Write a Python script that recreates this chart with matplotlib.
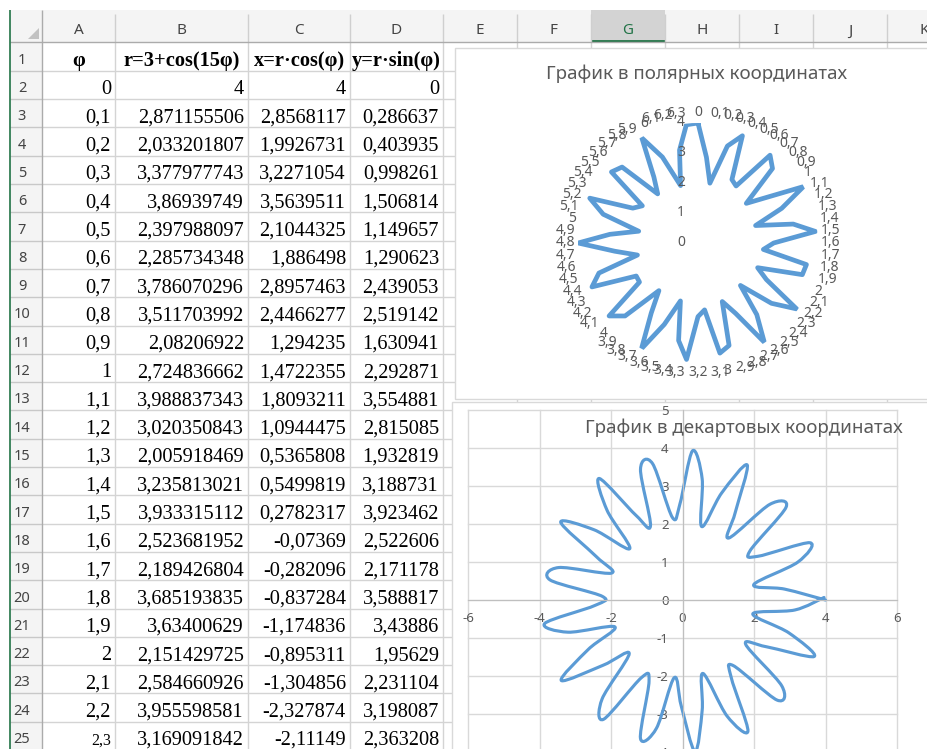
import numpy as np
import matplotlib.pyplot as plt
from matplotlib.path import Path
from matplotlib.patches import PathPatch, Rectangle, Polygon
from matplotlib.projections.polar import PolarAxes
from matplotlib.transforms import offset_copy

plt.rcParams['axes.unicode_minus'] = False

# ---- spreadsheet text, rows 2..25 (as shown in the cells) ----
phi_txt = ['0', '0,1', '0,2', '0,3', '0,4', '0,5', '0,6', '0,7', '0,8', '0,9', '1',
           '1,1', '1,2', '1,3', '1,4', '1,5', '1,6', '1,7', '1,8', '1,9', '2',
           '2,1', '2,2', '2,3']
r_txt = ['4', '2,871155506', '2,033201807', '3,377977743', '3,86939749',
         '2,397988097', '2,285734348', '3,786070296', '3,511703992', '2,08206922',
         '2,724836662', '3,988837343', '3,020350843', '2,005918469', '3,235813021',
         '3,933315112', '2,523681952', '2,189426804', '3,685193835', '3,63400629',
         '2,151429725', '2,584660926', '3,955598581', '3,169091842']
x_txt = ['4', '2,8568117', '1,9926731', '3,2271054', '3,5639511', '2,1044325',
         '1,886498', '2,8957463', '2,4466277', '1,294235', '1,4722355', '1,8093211',
         '1,0944475', '0,5365808', '0,5499819', '0,2782317', '-0,07369', '-0,282096',
         '-0,837284', '-1,174836', '-0,895311', '-1,304856', '-2,327874', '-2,11149']
y_txt = ['0', '0,286637', '0,403935', '0,998261', '1,506814', '1,149657',
         '1,290623', '2,439053', '2,519142', '1,630941', '2,292871', '3,554881',
         '2,815085', '1,932819', '3,188731', '3,923462', '2,522606', '2,171178',
         '3,588817', '3,43886', '1,95629', '2,231104', '3,198087', '2,363208']
head_txt = ['φ', 'r=3+cos(15φ)', 'x=r·cos(φ)', 'y=r·sin(φ)']
col_names = ['A', 'B', 'C', 'D', 'E', 'F', 'G', 'H', 'I', 'J', 'K']

# ---- chart data: column A (phi) and column B (r), all 64 rows ----
phi = [0.0, 0.1, 0.2, 0.3, 0.4, 0.5, 0.6, 0.7, 0.8, 0.9,
       1.0, 1.1, 1.2, 1.3, 1.4, 1.5, 1.6, 1.7, 1.8, 1.9,
       2.0, 2.1, 2.2, 2.3, 2.4, 2.5, 2.6, 2.7, 2.8, 2.9,
       3.0, 3.1, 3.2, 3.3, 3.4, 3.5, 3.6, 3.7, 3.8, 3.9,
       4.0, 4.1, 4.2, 4.3, 4.4, 4.5, 4.6, 4.7, 4.8, 4.9,
       5.0, 5.1, 5.2, 5.3, 5.4, 5.5, 5.6, 5.7, 5.8, 5.9,
       6.0, 6.1, 6.2, 6.3]
r = [4.0, 2.8712, 2.0332, 3.3780, 3.8694, 2.3980, 2.2857, 3.7861, 3.5117, 2.0821,
     2.7248, 3.9888, 3.0204, 2.0059, 3.2358, 3.9333, 2.5237, 2.1894, 3.6852, 3.6340,
     2.1514, 2.5847, 3.9556, 3.1691, 2.0008, 3.0884, 3.9764, 2.6600, 2.1112, 3.5690,
     3.7422, 2.2397, 2.4538, 3.9010, 3.3141, 2.0180, 2.9390, 3.9977, 2.8039, 2.0528,
     3.4401, 3.8337, 2.3450, 2.3351, 3.8263, 3.4510, 2.0572, 2.7909, 3.9967, 2.9522,
     2.0156, 3.3014, 3.9067, 2.4649, 2.2312, 3.7332, 3.5799, 2.1174, 2.6476, 3.9734,
     3.1016, 2.0004, 3.1560, 3.9594]

r_ticks = [0, 1, 2, 3, 4]
x_ticks = [-6, -4, -2, 0, 2, 4, 6]
y_ticks = [-5, -4, -3, -2, -1, 0, 1, 2, 3, 4, 5]
title_polar = 'График в полярных координатах'
title_cart = 'График в декартовых координатах'

W, H = 927, 749
BLUE = '#5B9BD5'
GREY = '#595959'
SANS = ['Noto Sans', 'DejaVu Sans']
SERIF = ['Liberation Serif', 'DejaVu Serif']

fig = plt.figure(figsize=(W / 100, H / 100), dpi=100)
base = fig.add_axes([0, 0, 1, 1])
base.set_xlim(0, W)
base.set_ylim(H, 0)
base.axis('off')

# ---- spreadsheet grid ----
col_x = [42, 115, 248, 350, 443, 517, 591, 665, 739, 813, 887, 961]
row_y = [42.5 + 28.3 * k for k in range(27)]

base.add_patch(Rectangle((10, 10), W, 32, fc='#f4f4f4', ec='none'))
base.add_patch(Rectangle((10, 42), 32, H, fc='#f4f4f4', ec='none'))
base.add_patch(Rectangle((591, 10), 74, 32, fc='#d3d3d3', ec='none'))
base.hlines(41, 591, 665, color='#217346', lw=2)
base.vlines(col_x[1:11], 14, 42, color='#cfcfcf', lw=1)
base.hlines(row_y[1:], 42, W, color='#d4d4d4', lw=1)
base.hlines(row_y[1:], 10, 42, color='#c8c8c8', lw=1)
base.vlines(col_x[1:11], 42, H, color='#d4d4d4', lw=1)
base.hlines(42, 10, W, color='#ababab', lw=1)
base.vlines(42, 10, H, color='#ababab', lw=1)
base.vlines(10, 10, H, color='#217346', lw=1.2)
base.add_patch(Polygon([(28, 39), (39, 39), (39, 28)], fc='#c2c2c2', ec='none'))

for i, name in enumerate(col_names):
    cx = (col_x[i] + col_x[i + 1]) / 2
    sel = name == 'G'
    base.text(cx, 31, name, ha='center', va='center', fontsize=11, family=SANS,
              color='#217346' if sel else '#444444',
              fontweight='bold' if sel else 'normal')

for i in range(25):
    base.text(22, row_y[i + 1] - 7, str(i + 1), ha='center', va='baseline',
              fontsize=10.5, family=SANS, color='#444444')

for j, txt in enumerate(head_txt):
    base.text((col_x[j] + col_x[j + 1]) / 2, row_y[1] - 5, txt, ha='center',
              va='baseline', fontsize=14.7, family=SERIF, fontweight='bold')

for i in range(len(phi_txt)):
    yb = row_y[i + 2] - 5
    cells = [phi_txt[i], r_txt[i], x_txt[i], y_txt[i]]
    for j, txt in enumerate(cells):
        fs = 11.5 if (j == 0 and i == len(phi_txt) - 1) else 14.7
        base.text(col_x[j + 1] - 4, yb, txt, ha='right', va='baseline',
                  fontsize=fs, family=SERIF, color='black')

# ---- chart boxes ----
base.add_patch(Rectangle((455, 48), 500, 351, fc='white', ec='#d9d9d9', lw=1, zorder=5))
base.add_patch(Rectangle((452, 402), 500, 380, fc='white', ec='#d9d9d9', lw=1, zorder=5))

# ---- radar chart ----
ax1 = fig.add_axes([578 / W, 1 - 363 / H, 240 / W, 240 / H], projection='polar')
ax1.set_theta_zero_location('N')
ax1.set_theta_direction(-1)
ax1.set_ylim(0, 4)
ax1.grid(False)
ax1.set_xticks([])
ax1.set_yticks([])
ax1.spines['polar'].set_visible(False)
ax1.patch.set_visible(False)

theta = np.linspace(0, 2 * np.pi, len(phi), endpoint=False)
ax1.plot(np.append(theta, theta[0]), np.append(r, r[0]), color=BLUE, lw=3.4,
         solid_joinstyle='round')

for t, v in zip(theta, phi):
    lab = f'{v:g}'.replace('.', ',')
    s = np.sin(t)
    ha = 'center' if abs(s) < 0.02 else ('left' if s > 0 else 'right')
    rr = (123 + 7 * abs(np.cos(t))) / 30
    ax1.text(t, rr, lab, ha=ha, va='center', fontsize=10, family=SANS, color=GREY)

lab_tr = offset_copy(ax1.transData, fig=fig, x=-13, y=0, units='dots')
for v in r_ticks:
    ax1.text(0, v, str(v), ha='right', va='center', fontsize=10, family=SANS,
             color=GREY, transform=lab_tr)

# ---- scatter chart with smoothed line ----
ax2 = fig.add_axes([468 / W, 1 - 790 / H, 429 / W, 380 / H])
ax2.set_xlim(-6, 6)
ax2.set_ylim(-5, 5)
ax2.patch.set_visible(False)
for side in ['top', 'right']:
    ax2.spines[side].set_visible(False)
for side in ['left', 'bottom']:
    ax2.spines[side].set_position(('data', 0))
    ax2.spines[side].set_color('#bfbfbf')
ax2.set_xticks(x_ticks)
ax2.set_yticks(y_ticks)
ax2.tick_params(length=0, labelsize=9.5, colors=GREY)
ax2.tick_params(axis='x', pad=9)
ax2.tick_params(axis='y', pad=10)
for lbl in ax2.get_xticklabels() + ax2.get_yticklabels():
    lbl.set_family(SANS)
ax2.grid(True, color='#d9d9d9', lw=1)
ax2.set_axisbelow(True)
for ln in ax2.get_xgridlines() + ax2.get_ygridlines():
    ln.set_clip_on(False)

# polar -> cartesian through matplotlib's own polar transform
pts = PolarAxes.PolarTransform(apply_theta_transforms=False).transform(
    np.column_stack([phi, r]))
ext = np.vstack([pts[0], pts, pts[-1]])
verts = [pts[0]]
codes = [Path.MOVETO]
for i in range(len(pts) - 1):
    p0, p1, p2, p3 = ext[i], ext[i + 1], ext[i + 2], ext[i + 3]
    verts += [p1 + (p2 - p0) / 6, p2 - (p3 - p1) / 6, p2]
    codes += [Path.CURVE4] * 3
ax2.add_patch(PathPatch(Path(verts, codes), fc='none', ec=BLUE, lw=2.25,
                        capstyle='round', joinstyle='round'))

# ---- titles ----
fig.text(697 / W, 1 - 74 / H, title_polar, ha='center', va='center',
         fontsize=13.5, family=SANS, color=GREY)
fig.text(744 / W, 1 - 428 / H, title_cart, ha='center', va='center',
         fontsize=13.5, family=SANS, color=GREY)

fig.savefig('out.png', dpi=100)
